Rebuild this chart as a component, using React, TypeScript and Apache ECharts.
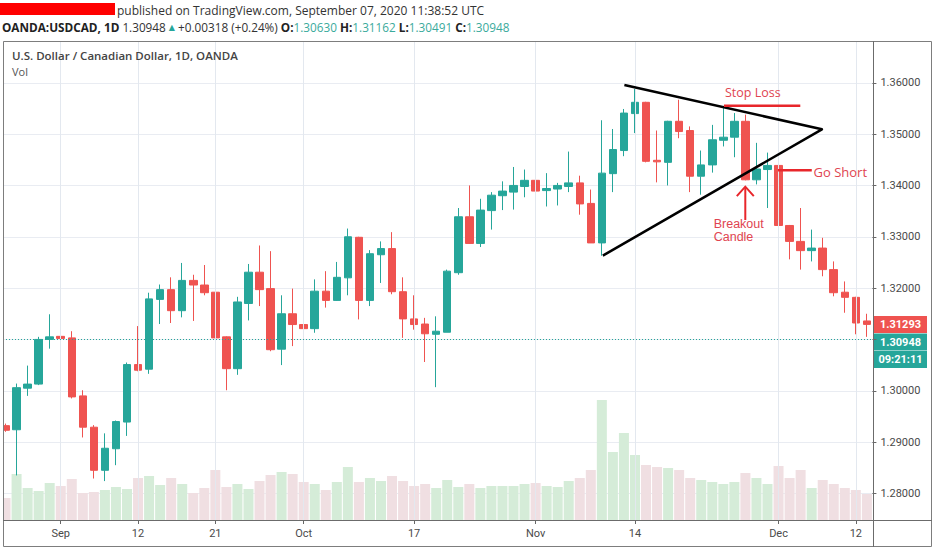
import React, { useEffect, useRef } from "react";
import * as echarts from "echarts";

// ---------- data ----------
const opens = [
  1.2932, 1.2924, 1.3005, 1.3013, 1.31, 1.3106, 1.3103, 1.299, 1.2929, 1.2845,
  1.2887, 1.2939, 1.3051, 1.3042, 1.3178, 1.3197, 1.3156, 1.3215, 1.3206, 1.3192,
  1.3105, 1.3043, 1.317, 1.3231, 1.3199, 1.3081, 1.315, 1.3129, 1.3121, 1.3194,
  1.3176, 1.322, 1.3299, 1.3176, 1.3265, 1.3277, 1.3193, 1.314, 1.313, 1.311,
  1.3114, 1.323, 1.3339, 1.3287, 1.3351, 1.338, 1.3387, 1.3398, 1.341, 1.339,
  1.3393, 1.3398, 1.3405, 1.3365, 1.3288, 1.3423, 1.3468, 1.354, 1.3562, 1.3449,
  1.3445, 1.3525, 1.3507, 1.3418, 1.344, 1.3488, 1.3494, 1.3525, 1.3411, 1.3431,
  1.3439, 1.3322, 1.3291, 1.3273, 1.3278, 1.3236, 1.3192, 1.3182, 1.3136,
];
const highs = [
  1.2936, 1.3014, 1.3049, 1.3105, 1.3149, 1.3151, 1.3116, 1.3001, 1.2933, 1.2917,
  1.2942, 1.3055, 1.3126, 1.3191, 1.3207, 1.3221, 1.3249, 1.3226, 1.3245, 1.3241,
  1.3106, 1.3183, 1.3247, 1.3283, 1.3272, 1.3186, 1.3199, 1.3147, 1.3217, 1.3233,
  1.3251, 1.3316, 1.33, 1.3274, 1.3291, 1.3309, 1.3221, 1.3186, 1.3142, 1.3145,
  1.3236, 1.3356, 1.34, 1.3374, 1.3387, 1.3408, 1.3436, 1.3431, 1.3427, 1.3424,
  1.3405, 1.3466, 1.3419, 1.3392, 1.3527, 1.351, 1.3549, 1.3588, 1.3563, 1.3507,
  1.3526, 1.3567, 1.3515, 1.3468, 1.3518, 1.3555, 1.3541, 1.3538, 1.3483, 1.3464,
  1.344, 1.3323, 1.3356, 1.3314, 1.3298, 1.3252, 1.3213, 1.3183, 1.315,
];
const lows = [
  1.292, 1.2835, 1.299, 1.3011, 1.3082, 1.3086, 1.2985, 1.2909, 1.2829, 1.2824,
  1.2855, 1.2912, 1.3038, 1.3033, 1.313, 1.3132, 1.3143, 1.3136, 1.3186, 1.3101,
  1.3001, 1.3031, 1.3137, 1.3165, 1.3077, 1.305, 1.3087, 1.3069, 1.3113, 1.3162,
  1.3175, 1.3186, 1.3139, 1.3165, 1.321, 1.3188, 1.3103, 1.3119, 1.3056, 1.3007,
  1.3114, 1.3226, 1.3286, 1.328, 1.3314, 1.3352, 1.3353, 1.3377, 1.3354, 1.3359,
  1.3361, 1.3387, 1.3343, 1.3288, 1.3263, 1.3387, 1.3457, 1.3502, 1.3445, 1.3406,
  1.34, 1.3492, 1.3387, 1.3382, 1.3425, 1.3476, 1.3455, 1.341, 1.3402, 1.3356,
  1.3301, 1.3256, 1.3236, 1.3252, 1.3223, 1.3184, 1.3152, 1.311, 1.3105,
];
const closes = [
  1.2923, 1.3006, 1.3013, 1.31, 1.3105, 1.3102, 1.2988, 1.2929, 1.2845, 1.2888,
  1.294, 1.3051, 1.304, 1.3179, 1.3197, 1.3156, 1.3215, 1.3206, 1.3191, 1.3103,
  1.3043, 1.3173, 1.3231, 1.3197, 1.308, 1.315, 1.3129, 1.3121, 1.3194, 1.3176,
  1.3221, 1.33, 1.3176, 1.3267, 1.3277, 1.3193, 1.314, 1.3129, 1.3111, 1.3116,
  1.3233, 1.3339, 1.3287, 1.3352, 1.3381, 1.3389, 1.34, 1.341, 1.3389, 1.3394,
  1.34, 1.3405, 1.3364, 1.3288, 1.3424, 1.347, 1.3541, 1.3562, 1.3447, 1.3446,
  1.3525, 1.3505, 1.3418, 1.344, 1.3489, 1.3494, 1.3525, 1.3411, 1.3432, 1.3439,
  1.3322, 1.3291, 1.3273, 1.3278, 1.3236, 1.3191, 1.3182, 1.3132, 1.31293,
];
// volume (relative units)
const volumes = [
  22, 46, 32, 29, 37, 34, 41, 27, 28, 30,
  33, 31, 42, 44, 35, 42, 36, 27, 32, 50,
  33, 36, 31, 39, 45, 48, 46, 38, 36, 30,
  38, 53, 38, 42, 39, 44, 39, 34, 36, 32,
  40, 33, 36, 32, 34, 34, 34, 36, 37, 34,
  33, 39, 42, 50, 120, 68, 87, 65, 55, 53,
  52, 50, 42, 40, 38, 36, 38, 47, 42, 36,
  54, 42, 50, 32, 40, 36, 32, 30, 26,
];
const tickIndices = [5, 12, 19, 27, 37, 48, 57, 70, 77];
const tickLabels = ["Sep", "12", "21", "Oct", "17", "Nov", "14", "Dec", "12"];
const lastPrice = 1.31293;
const markPrice = 1.30948;
const timerText = "09:21:11";

// annotation anchors in data space: [bar index, price]
const triangleUpperStart = [56.04, 1.35957];
const triangleApex = [73.93, 1.35094];
const triangleLowerStart = [54.09, 1.32632];
const stopLossLine = [[65.06, 1.35554], [71.97, 1.35554]];
const stopLossLabel = [67.67, 1.35807];
const goShortLine = [[69.95, 1.34295], [73.01, 1.34295]];
const goShortLabel = [73.17, 1.34256];
const breakoutArrow = [[66.99, 1.33976], [66.99, 1.33327]];
const breakoutLabel1 = [64.13, 1.33253];
const breakoutLabel2 = [64.13, 1.32990];

const GREEN = "#26a69a";
const RED = "#ef5350";
const FONT = "'Open Sans', 'Noto Sans', sans-serif";
const AXFONT = "Roboto, 'Noto Sans', sans-serif";
const NOTEFONT = "'Liberation Sans', Arial, sans-serif";

export default function App() {
  const ref = useRef<HTMLDivElement>(null);
  useEffect(() => {
    const el = ref.current!;
    const chart = echarts.init(el, null, { renderer: "svg", width: 936, height: 550 });
    const categories = opens.map((_, i) => `#${i}`);
    const candleData = opens.map((o, i) => [o, closes[i], lows[i], highs[i]]);
    const up = opens.map((o, i) => closes[i] >= o);
    const Y_MIN = 1.274818;
    const Y_MAX = 1.368143;
    const VOL_MAX = 479;

    chart.setOption({
      animation: false,
      backgroundColor: "#ffffff",
      grid: { left: -3.7, right: 63.6, top: 41, bottom: 30, containLabel: false },
      xAxis: {
        type: "category",
        data: categories,
        boundaryGap: true,
        axisLine: { show: false },
        axisTick: {
          show: true,
          alignWithLabel: true,
          interval: (i: number) => tickIndices.includes(i),
          length: 4,
          lineStyle: { color: "#666" },
        },
        axisLabel: {
          interval: (i: number) => tickIndices.includes(i),
          formatter: (_v: string, i: number) => {
            const k = tickIndices.indexOf(i);
            return k >= 0 ? tickLabels[k] : "";
          },
          color: "#4a4a4a",
          fontSize: 11,
          fontFamily: AXFONT,
          margin: 8,
        },
        splitLine: { show: false },
      },
      yAxis: [
        {
          type: "value",
          position: "right",
          min: Y_MIN,
          max: Y_MAX,
          splitNumber: 9,
          axisLine: { show: false },
          axisTick: { show: true, length: 4, lineStyle: { color: "#666" } },
          axisLabel: {
            formatter: (v: number) =>
              Math.abs(v - lastPrice) < 0.005 || Math.abs(v - markPrice) < 0.005 ? "" : v.toFixed(5),
            color: "#4a4a4a",
            fontSize: 11,
            fontFamily: AXFONT,
            margin: 8,
            showMinLabel: false,
            showMaxLabel: false,
          },
          splitLine: { lineStyle: { color: "#e9ecf2" } },
        },
        { type: "value", min: 0, max: VOL_MAX, show: false },
      ],
      series: [
        {
          type: "bar",
          yAxisIndex: 1,
          data: volumes.map((v, i) => ({
            value: v,
            itemStyle: { color: up[i] ? "#d5ecd8" : "#f0dfe2" },
          })),
          barWidth: 10,
          silent: true,
          z: 1,
          markLine: {
            silent: true,
            symbol: "none",
            label: { show: false },
            lineStyle: { color: "#e3e8ef", type: "solid", width: 1 },
            data: tickIndices.map((i) => ({ xAxis: i })),
          },
        },
        {
          type: "candlestick",
          data: candleData,
          barWidth: 8,
          z: 3,
          itemStyle: {
            color: GREEN,
            color0: RED,
            borderColor: GREEN,
            borderColor0: RED,
            borderWidth: 1,
          },
          markLine: {
            silent: true,
            symbol: "none",
            label: { show: false },
            lineStyle: { color: GREEN, type: [1, 2], width: 1 },
            data: [{ yAxis: markPrice }],
          },
        },
      ],
    });

    const px = (idx: number, price: number) => {
      const a = chart.convertToPixel({ gridIndex: 0 }, [0, price]) as number[];
      const b = chart.convertToPixel({ gridIndex: 0 }, [1, price]) as number[];
      return [a[0] + (b[0] - a[0]) * idx, a[1]];
    };

    const RED_LINE = "#e8262b";
    const RED_TEXT = "#e04450";
    const t1 = px(triangleUpperStart[0], triangleUpperStart[1]);
    const t2 = px(triangleApex[0], triangleApex[1]);
    const t3 = px(triangleLowerStart[0], triangleLowerStart[1]);
    const sl1 = px(stopLossLine[0][0], stopLossLine[0][1]);
    const sl2 = px(stopLossLine[1][0], stopLossLine[1][1]);
    const slL = px(stopLossLabel[0], stopLossLabel[1]);
    const gs1 = px(goShortLine[0][0], goShortLine[0][1]);
    const gs2 = px(goShortLine[1][0], goShortLine[1][1]);
    const gsL = px(goShortLabel[0], goShortLabel[1]);
    const ba1 = px(breakoutArrow[0][0], breakoutArrow[0][1]);
    const ba2 = px(breakoutArrow[1][0], breakoutArrow[1][1]);
    const bl1 = px(breakoutLabel1[0], breakoutLabel1[1]);
    const bl2 = px(breakoutLabel2[0], breakoutLabel2[1]);
    const yLast = px(0, lastPrice)[1];
    const yMark = px(0, markPrice)[1];

    const tag = (y: number, text: string, fill: string) => ({
      type: "group",
      children: [
        { type: "rect", shape: { x: 874, y: y - 8.5, width: 53, height: 17 }, style: { fill } },
        {
          type: "text",
          x: 900.5,
          y,
          style: {
            text,
            fill: "#fff",
            font: `bold 11px ${AXFONT}`,
            align: "center",
            verticalAlign: "middle",
          },
        },
      ],
    });

    const txt = (x: number, y: number, text: string, fill: string, font: string, align = "left") => ({
      type: "text",
      x,
      y,
      style: { text, fill, font, align, verticalAlign: "middle" },
      z: 60,
    });

    const hs = 11.75;
    const headerRich = {
      b: { fontFamily: FONT, fontSize: hs, fontWeight: "bold", fill: "#222", color: "#222" },
      n: { fontFamily: FONT, fontSize: hs, fill: "#333", color: "#333" },
      g: { fontFamily: FONT, fontSize: hs, fill: "#3aaa9c", color: "#3aaa9c" },
      t: { fontFamily: "'DejaVu Sans', sans-serif", fontSize: 8, fill: GREEN, color: GREEN },
    };
    const headerLine =
      "{b|OANDA:USDCAD, 1D} {n|1.30948} {t|▲} {n|+0.00318 (+0.24%)} " +
      "{b|O:}{g|1.30630} {b|H:}{g|1.31162} {b|L:}{g|1.30491} {b|C:}{g|1.30948}";

    const yLast2 = yMark > yLast + 17 ? yMark : yLast + 17.5;

    chart.setOption({
      graphic: [
        // left cover + frame
        { type: "rect", shape: { x: 0, y: 30, width: 3, height: 520 }, style: { fill: "#fff" }, z: 50 },
        { type: "rect", shape: { x: 3.5, y: 41.5, width: 928, height: 505 }, style: { fill: "none", stroke: "#7d7d7d", lineWidth: 1 }, z: 51 },
        { type: "line", shape: { x1: 873.5, y1: 41, x2: 873.5, y2: 547 }, style: { stroke: "#6b6b6b", lineWidth: 1 }, z: 51 },
        { type: "line", shape: { x1: 3, y1: 520.5, x2: 932, y2: 520.5 }, style: { stroke: "#6b6b6b", lineWidth: 1 }, z: 51 },
        // header
        { type: "rect", shape: { x: 0, y: 3, width: 115, height: 12 }, style: { fill: "#ff0000" }, z: 50 },
        txt(117, 10, "published on TradingView.com, September 07, 2020 11:38:52 UTC", "#333", `12px ${FONT}`),
        {
          type: "text",
          x: 2,
          y: 27,
          style: { text: headerLine, rich: headerRich, verticalAlign: "middle", align: "left", font: `${hs}px ${FONT}` },
        },
        txt(12, 55.5, "U.S. Dollar / Canadian Dollar, 1D, OANDA", "#444", `600 11.5px ${FONT}`),
        txt(12, 71.5, "Vol", "#555", `11px ${FONT}`),
        // triangle
        {
          type: "polyline",
          shape: { points: [t1, t2, t3] },
          style: { stroke: "#000", lineWidth: 2.5, fill: "none", lineJoin: "round" },
          z: 60,
        },
        // stop loss
        { type: "line", shape: { x1: sl1[0], y1: sl1[1], x2: sl2[0], y2: sl2[1] }, style: { stroke: RED_LINE, lineWidth: 2.5 }, z: 60 },
        txt(slL[0], slL[1], "Stop Loss", RED_TEXT, `12.5px ${FONT}`, "center"),
        // go short
        { type: "line", shape: { x1: gs1[0], y1: gs1[1], x2: gs2[0], y2: gs2[1] }, style: { stroke: RED_LINE, lineWidth: 2.5 }, z: 60 },
        txt(gsL[0], gsL[1], "Go Short", RED_TEXT, `13px ${FONT}`),
        // breakout arrow
        { type: "line", shape: { x1: ba1[0], y1: ba1[1] + 1, x2: ba2[0], y2: ba2[1] }, style: { stroke: RED_LINE, lineWidth: 2 }, z: 60 },
        {
          type: "polyline",
          shape: { points: [[ba1[0] - 8.5, ba1[1] + 9.5], [ba1[0], ba1[1]], [ba1[0] + 8.5, ba1[1] + 9.5]] },
          style: { stroke: RED_LINE, lineWidth: 2, fill: "none" },
          z: 60,
        },
        txt(bl1[0], bl1[1], "Breakout", RED_TEXT, `12.5px ${NOTEFONT}`),
        txt(bl2[0], bl2[1], "Candle", RED_TEXT, `12.5px ${NOTEFONT}`),
        // price tags
        tag(yLast, lastPrice.toFixed(5), RED),
        tag(yLast2, markPrice.toFixed(5), GREEN),
        tag(yLast2 + 17.5, timerText, GREEN),
      ],
    });

    return () => chart.dispose();
  }, []);

  return (
    <div
      ref={ref}
      style={{ position: "fixed", left: 0, top: 0, width: 936, height: 550, background: "#fff" }}
    />
  );
}
